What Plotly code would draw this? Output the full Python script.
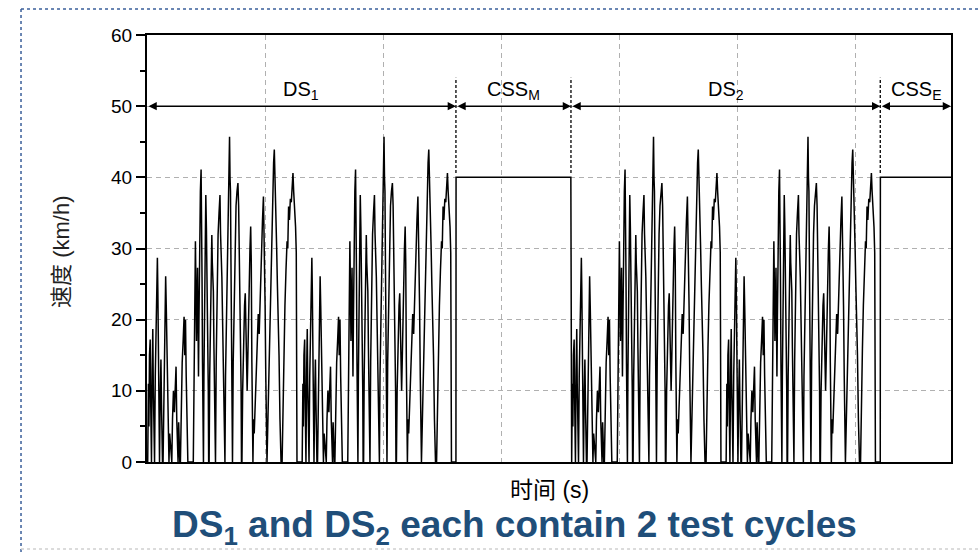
import plotly.graph_objects as go

# ---------------- data ----------------
# one test cycle: time (s) and speed (km/h)
cycle_t = [0, 6, 12, 16, 21, 27, 31, 34, 38, 44, 49, 53, 57, 61, 64, 70, 76, 82, 88, 92, 95, 100,
           106, 112, 118, 123, 127, 131, 136, 142, 150, 158, 163, 168, 174, 180, 186, 192, 198, 204,
           210, 216, 224, 232, 238, 246, 252, 258, 263, 268, 273, 278, 283, 290, 298, 306, 314, 320,
           326, 332, 338, 346, 392, 398, 404, 410, 415, 419, 424, 428, 432, 436, 440, 446, 452, 458,
           462, 466, 470, 474, 478, 482, 488, 494, 498, 503, 507, 511, 515, 519, 522, 526, 531, 537,
           543, 549, 553, 557, 562, 567, 572, 576, 580, 586, 594, 602, 610, 618, 623, 628, 634, 640,
           646, 652, 656, 660, 665, 670, 676, 682, 688, 694, 699, 703, 707, 711, 715, 720, 724, 730,
           738, 746, 754, 762, 770, 776, 781, 787, 792, 797, 800, 804, 810, 818, 826, 832, 838, 843,
           848, 853, 858, 864, 872, 878, 883, 888, 892, 897, 902, 908, 914, 920, 926, 934, 942, 950,
           956, 962, 970, 978, 986, 991, 995, 1000, 1006, 1011, 1016, 1020, 1026, 1034, 1042, 1048,
           1054, 1060, 1066, 1072, 1078, 1083, 1090, 1098, 1104, 1110, 1118, 1126, 1135, 1144, 1152,
           1160, 1168, 1177, 1186, 1192, 1199, 1206, 1214, 1222, 1230, 1236, 1242, 1250, 1258, 1264,
           1270, 1308]
cycle_v = [0, 0, 11, 5, 15, 17.2, 9, 0, 0, 13, 18.7, 11, 4, 0, 0, 12, 20, 26, 28.7, 24, 18, 0,
           0, 9, 14.4, 8, 3, 0, 0, 10, 18, 26.1, 22, 17.2, 10, 0, 0, 4, 2, 0,
           0, 6, 10, 7, 11, 13.4, 6, 0, 0, 5.6, 2, 0, 0, 8, 14, 17, 20.4, 15,
           20, 12, 7, 0, 0, 14, 24, 31, 24, 17, 22, 27.3, 20, 12, 20, 31, 38, 41.1,
           36, 26, 14, 0, 0, 12, 26, 34, 37.5, 33, 28, 22, 18, 10, 0, 0, 12, 22,
           28, 31.9, 28, 26.6, 24, 16, 8, 0, 0, 14, 26, 32, 35, 37.5, 32, 30, 26, 20,
           12, 4, 0, 0, 12, 18, 23, 30, 38, 44, 45.7, 40, 38, 28, 20, 0, 0, 14,
           24, 32, 36, 38, 39.2, 36, 30, 24, 20, 10, 0, 0, 10, 18, 22, 23.7, 19, 12,
           10, 14, 20, 26, 30, 33.1, 28, 14, 0, 0, 6, 4, 7, 10, 13, 18, 20.8, 18,
           22, 25, 30, 34, 37.3, 33, 26, 22, 12, 0, 0, 3, 8, 13, 18, 22,
           28, 34, 38, 42, 43.9, 41, 36, 30, 25, 22, 15, 6, 0, 0, 10,
           16, 22, 27, 31, 30, 35.9, 34, 37, 36.5, 39, 40.6, 38, 36, 33, 29.4,
           0, 0]

cycle_length = 1308                 # s
ds1_offsets = [0, 1308]             # two cycles in DS1
ds2_offsets = [3590, 4898]          # two cycles in DS2
css_m_t = [2616, 2617, 3589, 3590]
css_m_v = [0, 40, 40, 0]
css_e_t = [6209, 6210, 6808]
css_e_v = [0, 40, 40]

segments = ["DS<sub>1</sub>", "CSS<sub>M</sub>", "DS<sub>2</sub>", "CSS<sub>E</sub>"]
segment_bounds = [0, 2616, 3590, 6209, 6808]
x_max = 6808
y_ticks = [0, 10, 20, 30, 40, 50, 60]

# ---------------- build series ----------------
time, speed = [], []
for off in ds1_offsets:
    time += [t + off for t in cycle_t]
    speed += cycle_v
time += css_m_t
speed += css_m_v
for off in ds2_offsets:
    time += [t + off for t in cycle_t]
    speed += cycle_v
time += css_e_t
speed += css_e_v

FONT = "Liberation Sans, Arial, Noto Sans CJK SC, sans-serif"

fig = go.Figure()
fig.add_trace(go.Scatter(x=time, y=speed, mode="lines",
                         line=dict(color="black", width=1.5),
                         hoverinfo="skip", showlegend=False))

grid = dict(showgrid=True, gridcolor="#b0b0b0", gridwidth=1, griddash="5px,4px")

fig.update_xaxes(range=[0, x_max], dtick=1000, tick0=0, showticklabels=False, ticks="",
                 showline=True, linewidth=2, linecolor="black", mirror=True, zeroline=False,
                 **grid)
fig.update_yaxes(range=[0, 60], tickvals=y_ticks, ticks="outside", ticklen=9, tickwidth=1.5,
                 tickcolor="black", tickfont=dict(size=19, color="black", family=FONT),
                 showline=True, linewidth=2, linecolor="black", mirror=True, zeroline=False,
                 minor=dict(dtick=5, ticks="outside", ticklen=5, tickwidth=1.5,
                            tickcolor="black", showgrid=False),
                 **grid)

annotations = []
shapes = []
for i, name in enumerate(segments):
    a, b = segment_bounds[i], segment_bounds[i + 1]
    annotations.append(dict(x=b, y=50, ax=a, ay=50, xref="x", yref="y", axref="x", ayref="y",
                            text="", showarrow=True, arrowside="end+start", arrowhead=2,
                            startarrowhead=2, arrowsize=1.1, startarrowsize=1.1,
                            arrowwidth=1.5, arrowcolor="black", standoff=0, startstandoff=0))
    annotations.append(dict(x=(a + b) / 2, y=50, xref="x", yref="y", text=name,
                            showarrow=False, yanchor="bottom", yshift=1,
                            font=dict(size=20, color="black", family=FONT)))
for b in segment_bounds[1:-1]:
    shapes.append(dict(type="line", xref="x", yref="y", x0=b, x1=b, y0=40.6, y1=54,
                       line=dict(color="black", width=1.3, dash="3px,2px")))

# axis titles and caption
annotations.append(dict(text="速度 (km/h)", xref="paper", yref="paper", x=-0.1057, y=0.492,
                        textangle=-90, showarrow=False, xanchor="center", yanchor="middle",
                        font=dict(size=22, color="#222222", family=FONT)))
annotations.append(dict(text="时间 (s)", xref="paper", yref="paper", x=0.501, y=-0.066,
                        showarrow=False, xanchor="center", yanchor="middle",
                        font=dict(size=23, color="black", family=FONT)))
annotations.append(dict(text="<b>DS<sub>1</sub> and DS<sub>2</sub> each contain 2 test cycles</b>",
                        xref="paper", yref="paper", x=0.4565, y=-0.153, showarrow=False,
                        xanchor="center", yanchor="middle",
                        font=dict(size=37, color="#1F4E79", family=FONT)))

# slide border (dotted)
shapes.append(dict(type="line", xref="paper", yref="paper", x0=-0.1567, x1=-0.1567,
                   y0=1.061, y1=-0.22, line=dict(color="#3A5F9A", width=1.5, dash="dot")))
shapes.append(dict(type="line", xref="paper", yref="paper", x0=-0.1567, x1=1.04,
                   y0=1.061, y1=1.061, line=dict(color="#3A5F9A", width=1.5, dash="dot")))
shapes.append(dict(type="line", xref="paper", yref="paper", x0=-0.1567, x1=1.04,
                   y0=-0.204, y1=-0.204, line=dict(color="#d0d0d0", width=1.5, dash="dot")))

fig.update_layout(width=979, height=552, paper_bgcolor="white", plot_bgcolor="white",
                  margin=dict(l=147, r=28, t=35, b=90, pad=0),
                  font=dict(family=FONT, color="black"),
                  annotations=annotations, shapes=shapes, showlegend=False)

fig.write_html("out.html", config={"displayModeBar": False},
               post_script="document.body.style.margin='0';")
